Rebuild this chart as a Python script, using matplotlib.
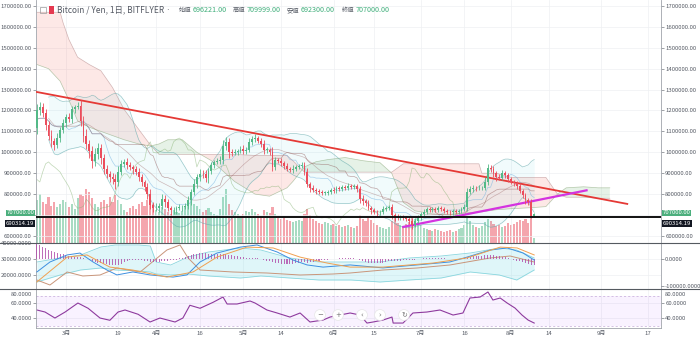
import numpy as np
import pandas as pd
import matplotlib
matplotlib.use("Agg")
import matplotlib.pyplot as plt
from matplotlib.lines import Line2D
from matplotlib.patches import Rectangle

plt.rcParams['font.family'] = ['Noto Sans CJK JP', 'DejaVu Sans']

# daily candles, BTC/JPY, prices in thousand yen
start = "2018-02-19"
first_open = 1116
close_k = [
    1200, 1215, 1190, 1130, 1080, 1055, 1035, 1070, 1107, 1140,
    1170, 1160, 1205, 1215, 1222, 1150, 1080, 1040, 1005, 960,
    990, 1020, 975, 920, 895, 882, 870, 858, 906, 945,
    954, 940, 930, 918, 905, 880, 858, 835, 800, 748,
    733, 735, 742, 775, 760, 735, 722, 722, 732, 736,
    738, 742, 770, 810, 850, 880, 898, 895, 875, 910,
    940, 952, 958, 963, 1030, 1050, 1000, 997, 1001, 1008,
    1016, 1005, 1010, 1050, 1062, 1068, 1055, 1040, 1011, 1011,
    1000, 930, 963, 958, 950, 935, 922, 915, 922, 930,
    936, 939, 905, 850, 828, 820, 814, 810, 806, 806,
    811, 818, 815, 828, 826, 834, 831, 838, 835, 839,
    822, 775, 765, 757, 735, 722, 714, 712, 716, 728,
    733, 737, 700, 688, 686, 688, 686, 680, 670, 652,
    672, 692, 705, 716, 728, 722, 730, 724, 735, 727,
    720, 716, 712, 718, 713, 720, 728, 736, 810, 822,
    829, 828, 829, 830, 860, 925, 920, 900, 880, 877,
    900, 890, 870, 858, 853, 840, 815, 796, 772, 762,
    696.221, 707.0]
upper_wick = [
    30, 25, 20, 15, 20, 25, 15, 20, 15, 20,
    15, 20, 15, 10, 20, 30, 25, 30, 20, 25,
    30, 25, 20, 15, 20, 15, 20, 25, 30, 20,
    15, 20, 15, 10, 15, 20, 15, 10, 20, 25,
    15, 20, 15, 25, 20, 15, 10, 15, 10, 15,
    10, 15, 20, 15, 20, 15, 20, 15, 20, 15,
    15, 10, 15, 20, 30, 25, 20, 15, 15, 10,
    15, 20, 15, 20, 15, 20, 10, 15, 20, 15,
    10, 25, 15, 10, 15, 10, 15, 10, 15, 10,
    10, 15, 15, 20, 10, 15, 10, 10, 10, 10,
    10, 10, 15, 10, 10, 10, 10, 15, 10, 10,
    10, 15, 20, 10, 15, 10, 10, 10, 10, 15,
    10, 10, 15, 10, 15, 10, 10, 10, 10, 15,
    15, 10, 10, 15, 10, 10, 10, 10, 10, 10,
    10, 10, 10, 10, 10, 10, 10, 15, 20, 15,
    15, 10, 15, 10, 20, 20, 15, 15, 10, 15,
    15, 10, 10, 10, 10, 10, 15, 10, 10, 10,
    15, 2.999]
lower_wick = [
    30, 20, 20, 25, 20, 30, 25, 15, 20, 15,
    20, 15, 20, 15, 10, 25, 30, 25, 30, 35,
    25, 20, 30, 25, 20, 25, 20, 35, 20, 15,
    15, 20, 15, 20, 15, 15, 20, 20, 25, 20,
    20, 15, 20, 15, 20, 15, 20, 15, 15, 10,
    15, 10, 15, 20, 15, 20, 15, 20, 15, 20,
    15, 15, 10, 15, 20, 20, 25, 15, 10, 15,
    10, 15, 15, 10, 15, 15, 10, 15, 20, 15,
    15, 20, 15, 10, 15, 15, 10, 10, 15, 10,
    10, 10, 15, 15, 20, 10, 15, 10, 10, 10,
    10, 10, 10, 10, 10, 10, 10, 10, 10, 10,
    10, 20, 15, 15, 10, 15, 10, 15, 10, 10,
    10, 10, 20, 15, 10, 10, 10, 10, 15, 20,
    10, 10, 15, 10, 10, 10, 10, 10, 10, 10,
    10, 10, 10, 10, 10, 10, 10, 10, 15, 10,
    10, 15, 10, 10, 10, 15, 15, 20, 15, 10,
    10, 15, 10, 10, 15, 15, 10, 15, 20, 15,
    10, 3.921]
# thousand BTC
volume = [
    42, 48, 40, 38, 45, 36, 40, 35, 38, 42,
    40, 35, 38, 33, 44, 48, 46, 53, 50, 44,
    38, 35, 40, 42, 38, 45, 40, 47, 42, 38,
    32, 30, 34, 36, 33, 38, 40, 36, 42, 45,
    38, 32, 30, 35, 33, 30, 28, 32, 30, 29,
    31, 35, 40, 42, 38, 36, 33, 30, 32, 34,
    30, 28, 27, 33, 45, 53, 38, 32, 30, 28,
    26, 28, 31, 30, 33, 30, 28, 26, 32, 30,
    29, 35, 28, 25, 24, 26, 23, 22, 21, 22,
    23, 22, 28, 33, 27, 24, 22, 20, 19, 21,
    20, 18, 19, 17, 18, 16, 17, 18, 16, 15,
    17, 27, 24, 22, 25, 23, 20, 18, 16, 15,
    14, 16, 22, 25, 20, 18, 17, 19, 21, 26,
    24, 21, 18, 15, 14, 13, 12, 14, 13, 12,
    11, 12, 13, 11, 12, 14, 15, 18, 25, 22,
    18, 16, 15, 17, 21, 24, 22, 19, 17, 18,
    16, 17, 20, 18, 19, 21, 23, 22, 24, 20,
    26, 5]

# ichimoku leading spans (days after start, thousand yen)
cloud_day = [0, 4, 8, 9, 11, 14, 18, 22, 26, 30, 35, 39, 42, 45, 50, 55, 60, 68,
             75, 80, 86, 88, 92, 96, 100, 106, 112, 118, 122, 126, 130, 136, 142,
             148, 152, 153, 158, 163, 170, 175, 179, 182, 188, 193, 197]
span_a = [1420, 1400, 1340, 1310, 1250, 1150, 1120, 1100, 1080, 1060, 1040, 1030,
          1040, 1060, 1060, 1000, 960, 860, 800, 790, 830, 860, 930, 955, 965, 975,
          960, 950, 900, 760, 720, 705, 700, 710, 715, 715, 725, 730, 735, 740, 800,
          830, 835, 830, 830]
span_b = [1670, 1670, 1670, 1620, 1540, 1455, 1420, 1390, 1310, 1205, 1110, 1035,
          990, 990, 990, 990, 990, 990, 985, 985, 985, 960, 905, 905, 905, 905, 905,
          905, 905, 945, 945, 945, 945, 945, 945, 900, 900, 880, 880, 880, 800, 785,
          785, 780, 780]

# MACD pane: histogram (thousand yen, daily), lines as vertices
macd_hist = [
    55, 50, 45, 40, 35, 30, 26, 22, 20, 18,
    15, 12, 10, 9, 8, 6, 3, 0, -4, -8,
    -12, -14, -16, -18, -20, -22, -24, -24, -22, -18,
    -12, -6, -3, -2, -2, -3, -5, -6, -8, -10,
    -11, -11, -10, -9, -8, -6, -5, -4, -2, 2,
    5, 8, 12, 15, 18, 20, 22, 22, 21, 20,
    19, 18, 17, 17, 18, 19, 16, 14, 12, 10,
    8, 6, 5, 5, 5, 4, 2, 0, -3, -6,
    -9, -12, -14, -16, -17, -18, -18, -18, -17, -16,
    -14, -12, -12, -14, -12, -10, -8, -6, -4, -3,
    -2, -1, 0, 1, 2, 2, 3, 3, 3, 2,
    0, -4, -7, -10, -13, -15, -16, -16, -15, -13,
    -11, -9, -9, -9, -8, -6, -5, -4, -4, -5,
    -3, -1, 1, 2, 3, 4, 4, 4, 3, 3,
    2, 1, 1, 0, 0, 0, 1, 2, 6, 9,
    11, 12, 12, 12, 13, 15, 15, 14, 12, 10,
    8, 6, 3, 0, -3, -6, -9, -12, -15, -18,
    -21, -22]
macd_day = [0, 4.5, 10.4, 14.8, 19.3, 24.1, 27.5, 33, 38.9, 46.8, 51.6, 56.1, 61.9,
            69.9, 75.7, 82.6, 88.1, 92.9, 98.4, 107.7, 119, 130.7, 142, 147.9,
            155.8, 161.7, 167.2, 171]
macd_val = [-48, -11, 15, 22, -11, -41, -59, -48, -59, -67, -59, -11, 22, 44, 52,
            26, -4, -22, -30, -22, -33, -22, -11, 7, 33, 41, 22, -4]
signal_day = [0, 10.4, 17.2, 25.1, 33, 44.7, 53.7, 61.9, 72.2, 81.2, 90.5, 99.8,
              107.7, 119, 136.2, 147.9, 159.3, 165.1, 171]
signal_val = [-85, 7, 15, -30, -41, -67, -48, 7, 44, 41, 7, -15, -30, -30, -15, 4,
              44, 41, 15]
osc_day = [0, 4.5, 10.4, 15.8, 21.7, 27.5, 35.5, 44.7, 49.2, 52, 56.1, 67.4, 79.1,
           90.5, 101.8, 107.7, 119, 130.7, 142, 147.9, 155.8, 162.7, 171]
osc_val = [16875, 13750, 21875, 19375, 20000, 24375, 21875, 35625, 38750, 30625,
           23125, 21875, 21250, 20000, 20625, 21250, 23125, 24375, 26250, 28125,
           30625, 31875, 28125]
band_day = [0, 8, 15, 22, 27, 35, 39, 41, 46, 52, 59, 70, 77, 87, 97, 108, 118, 128,
            139, 149, 159, 165, 171]
band_up = [28125, 30625, 32500, 37500, 38750, 38750, 38125, 28125, 26250, 31250,
           34375, 36875, 35625, 30625, 28125, 28125, 28125, 30625, 31875, 33750,
           36875, 35625, 30625]
band_lo = [15625, 20000, 23125, 24375, 23125, 22500, 21875, 20625, 20000, 20625,
           19375, 18125, 19375, 18125, 16875, 16875, 15625, 16875, 18125, 21875,
           20000, 16875, 23125]

# RSI vertices
rsi_day = [0, 2.8, 6.2, 9.7, 14.1, 17.6, 21.7, 25.1, 27.9, 30.3, 34.8, 38.9, 42.3,
           47.5, 50.2, 52.6, 56.1, 60.6, 64, 65.4, 68.8, 73.3, 75, 79.1, 82.6, 87,
           90.5, 93.9, 98.4, 100.8, 104.2, 107.7, 111.1, 113.5, 115.6, 119, 122.1,
           122.5, 125.9, 129.3, 134.1, 138.6, 143.1, 146.5, 148.9, 152.4, 155.1,
           156.8, 159.3, 161.7, 164.4, 166.8, 168.9, 171]
rsi_val = [50.7, 48, 40, 48, 60, 53, 40, 37, 48, 50.7, 45, 34.7, 40, 34.7, 40, 57,
           53, 61, 68, 58.7, 58.7, 62.7, 60, 50.7, 46.7, 41.3, 46.7, 34.7, 37.3,
           41.3, 44, 46.7, 44, 33.3, 34.7, 37.3, 41.3, 33.3, 33.3, 46.7, 48, 50.7,
           44, 46.7, 66.7, 68, 74.7, 64, 66.7, 60, 53.3, 44, 37.3, 33.3]

# drawn trend lines and the horizontal level
red_line = (["2018-02-19", "2018-09-10"], [1288500, 753000])
magenta_line = (["2018-06-25", "2018-08-27"], [643000, 818000])
level_price = 690314.19
last_price = 707000

tick_dates = ["2018-03-01", "2018-03-19", "2018-04-01", "2018-04-16", "2018-05-01",
              "2018-05-14", "2018-06-01", "2018-06-15", "2018-07-01", "2018-07-16",
              "2018-08-01", "2018-08-14", "2018-09-01", "2018-09-17"]
tick_text = ["3月", "19", "4月", "16", "5月", "14", "6月", "15", "7月", "16",
             "8月", "14", "9月", "17"]
price_ticks = list(range(600000, 1700001, 100000))

t0 = pd.Timestamp(start)
def day(d):
    return (pd.Timestamp(d) - t0).days

UP, DN = '#53b987', '#eb4d5c'
TXT = '#555a64'
GRID = '#eef0f3'
FS = 4.3

W, H = 700, 340
L, R = 36, 661
fig = plt.figure(figsize=(W / 100, H / 100), dpi=100)

def pane(top, bottom, **kw):
    return fig.add_axes([L / W, 1 - bottom / H, (R - L) / W, (bottom - top) / H], **kw)

x = np.arange(len(close_k))
c = np.array(close_k) * 1000
o = np.r_[first_open, close_k[:-1]] * 1000
h = np.maximum(o, c) + np.array(upper_wick) * 1000
lo = np.minimum(o, c) - np.array(lower_wick) * 1000
up = c >= o
col = np.where(up, UP, DN)
xticks = [day(d) for d in tick_dates]
XLIM = (-0.31, 214.6)

def style(a):
    a.set_xlim(*XLIM)
    a.set_xticks(xticks)
    a.grid(True, color=GRID, lw=0.5)
    a.set_axisbelow(True)
    for s in ('top', 'bottom'):
        a.spines[s].set_visible(False)
    for s in ('left', 'right'):
        a.spines[s].set_color('#a0a4ab')
        a.spines[s].set_linewidth(0.6)
    a.tick_params(axis='x', length=0, labelbottom=False)
    a.tick_params(axis='y', labelsize=FS, colors=TXT, length=2, width=0.4, pad=1,
                  left=True, right=True, labelleft=True, labelright=True)

# ---- volume underlay ----
axv = pane(0, 243)
axv.set_xlim(*XLIM)
axv.set_ylim(0, max(volume) * 4.5)
axv.bar(x, volume, width=0.72, color=col, alpha=0.5, lw=0)
axv.axis('off')

# ---- price pane ----
ax = pane(0, 243, sharex=axv)
ax.patch.set_visible(False)
style(ax)
ax.set_ylim(566000, 1728700)
ax.set_yticks(price_ticks)
# the 700000 label sits under the last-price tag
ax.set_yticklabels(["" if v == 700000 else f"{v:.2f}" for v in price_ticks])

cx = np.array(cloud_day)
sa = np.array(span_a) * 1000
sb = np.array(span_b) * 1000
ax.fill_between(cx, sa, sb, where=sb >= sa, interpolate=True, color='#f44336', alpha=0.12, lw=0, zorder=1)
ax.fill_between(cx, sa, sb, where=sa > sb, interpolate=True, color='#43a047', alpha=0.13, lw=0, zorder=1)
ax.plot(cx, sa, color='#8aa87a', lw=0.5, alpha=0.6, zorder=2)
ax.plot(cx, sb, color='#b58a8a', lw=0.5, alpha=0.6, zorder=2)

cs = pd.Series(c)
basis = cs.rolling(20, min_periods=5).mean()
dev = cs.rolling(20, min_periods=5).std(ddof=0)
ax.fill_between(x, basis - 2 * dev, basis + 2 * dev, color='#4dd0e1', alpha=0.08, lw=0, zorder=1)
ax.plot(x, basis + 2 * dev, color='#5aa5a8', lw=0.5, alpha=0.6, zorder=2)
ax.plot(x, basis - 2 * dev, color='#5aa5a8', lw=0.5, alpha=0.6, zorder=2)
ax.plot(x, basis, color='#a06a6a', lw=0.5, alpha=0.45, zorder=2)

hs, ls = pd.Series(h), pd.Series(lo)
tenkan = (hs.rolling(9, min_periods=1).max() + ls.rolling(9, min_periods=1).min()) / 2
kijun = (hs.rolling(26, min_periods=1).max() + ls.rolling(26, min_periods=1).min()) / 2
ax.plot(x, tenkan, color='#6aaee0', lw=0.5, alpha=0.55, zorder=2)
ax.plot(x, kijun, color='#8b5050', lw=0.5, alpha=0.5, zorder=2)
ax.plot(x[26:] - 26, c[26:], color='#7fae6a', lw=0.5, alpha=0.5, zorder=2)

ax.plot([day(d) for d in red_line[0]], red_line[1], color='#e53935', lw=1.3, zorder=4)
ax.plot([day(d) for d in magenta_line[0]], magenta_line[1], color='#d433e0', lw=1.6, zorder=4)

ax.vlines(x, lo, h, colors=col, lw=0.6, zorder=5)
ax.bar(x, np.maximum(np.abs(c - o), 2500), bottom=np.minimum(o, c), width=0.64,
       color=col, lw=0, zorder=6)
ax.axhline(level_price, color='#111111', lw=1.4, zorder=7)

ytr = ax.get_yaxis_transform()
for xa, ha in ((-0.003, 'right'), (1.003, 'left')):
    ax.text(xa, last_price + 3000, f"{last_price:.2f}", transform=ytr, ha=ha, va='center',
            fontsize=FS, color='white', zorder=10, clip_on=False,
            bbox=dict(boxstyle='square,pad=0.12', fc='#4caf7d', ec='none'))
    ax.text(xa, level_price - 30000, f"{level_price:.2f}", transform=ytr, ha=ha, va='center',
            fontsize=FS, color='white', zorder=10, clip_on=False,
            bbox=dict(boxstyle='square,pad=0.12', fc='#131722', ec='none'))

# ---- MACD pane ----
ax2 = pane(243, 289, sharex=axv)
style(ax2)
ax2.set_ylim(11250, 40000)
ax2.set_yticks([20000, 30000, 40000])
ax2.set_yticklabels([f"{v:.4f}" for v in (20000, 30000, 40000)])
ax2.tick_params(axis='y', right=False, labelright=False)
ax2.fill_between(band_day, band_lo, band_up, color='#80deea', alpha=0.25, lw=0)
ax2.plot(band_day, band_up, color='#8ad6de', lw=0.6)
ax2.plot(band_day, band_lo, color='#8ad6de', lw=0.6)
ax2.plot(osc_day, osc_val, color='#c9957a', lw=0.7)

ax2r = ax2.twinx()
ax2r.set_ylim(-111111, 59259)
ax2r.set_yticks([-100000, 0])
ax2r.set_yticklabels([f"{v:.4f}" for v in (-100000, 0)])
ax2r.tick_params(axis='y', labelsize=FS, colors=TXT, length=2, width=0.4, pad=1)
for s in ax2r.spines.values():
    s.set_visible(False)
ax2r.bar(x, np.array(macd_hist) * 1000, width=0.35, color='#b04aa8', alpha=0.8, lw=0)
ax2r.plot(macd_day, np.array(macd_val) * 1000, color='#3d8fe0', lw=0.7)
ax2r.plot(signal_day, np.array(signal_val) * 1000, color='#f0a050', lw=0.7)

# ---- RSI pane ----
ax3 = pane(289, 328, sharex=axv)
style(ax3)
ax3.set_ylim(26.7, 78.7)
ax3.set_yticks([40, 60])
ax3.set_yticklabels(["40.0000", "60.0000"])
ax3.axhspan(30, 70, color='#9c27ff', alpha=0.06, lw=0)
ax3.axhline(70, color='#c3a9d8', lw=0.5, ls=(0, (3, 3)))
ax3.axhline(30, color='#c3a9d8', lw=0.5, ls=(0, (3, 3)))
ax3.plot(rsi_day, rsi_val, color='#8e3a9e', lw=0.8)
for xa, ha in ((-0.006, 'right'), (1.006, 'left')):
    ax3.text(xa, 0.86, "80.0000", transform=ax3.transAxes, ha=ha, va='center',
             fontsize=FS, color=TXT, clip_on=False)
ax3.tick_params(axis='x', labelbottom=True, labelsize=FS, colors=TXT, pad=2)
ax3.set_xticklabels(tick_text)

# pane separators and bottom rule
for yy in (243, 289):
    fig.add_artist(Line2D([0, 1], [1 - yy / H] * 2, color='#555a60', lw=0.8,
                          transform=fig.transFigure))
fig.add_artist(Line2D([L / W, R / W], [1 - 328 / H] * 2, color='#a0a4ab', lw=0.6,
                      transform=fig.transFigure))

# chart navigation buttons
for bx, g in ((320, "−"), (338, "+"), (362, "‹"), (380, "›"), (404, "↻")):
    fig.text(bx / W, 1 - 315 / H, g, ha='center', va='center', fontsize=5, color='#777',
             family='DejaVu Sans',
             bbox=dict(boxstyle='circle,pad=0.35', fc='white', ec='#e6e6e6', lw=0.5))

# legend header
hy = 1 - 10 / H
fig.add_artist(Rectangle((40 / W, 1 - 13 / H), 6 / W, 6 / H, fc='none', ec='#9a9a9a', lw=0.5,
                         transform=fig.transFigure))
fig.add_artist(Rectangle((49 / W, 1 - 13.5 / H), 5 / W, 7 / H, fc='#e53950', ec='none',
                         transform=fig.transFigure))
fig.text(57 / W, hy, "Bitcoin / Yen, 1日, BITFLYER ·", fontsize=6.0, color=TXT, va='center')
for lx, lab, val in ((179, "始値", "696221.00"), (233, "高値", "709999.00"),
                     (287, "安値", "692300.00"), (342, "終値", "707000.00")):
    fig.text(lx / W, hy, lab, fontsize=4.5, color=TXT, va='center')
    fig.text((lx + 13.5) / W, hy, val, fontsize=5.2, color='#3fae7a', va='center')

fig.savefig("out.png", dpi=100, facecolor='white')
